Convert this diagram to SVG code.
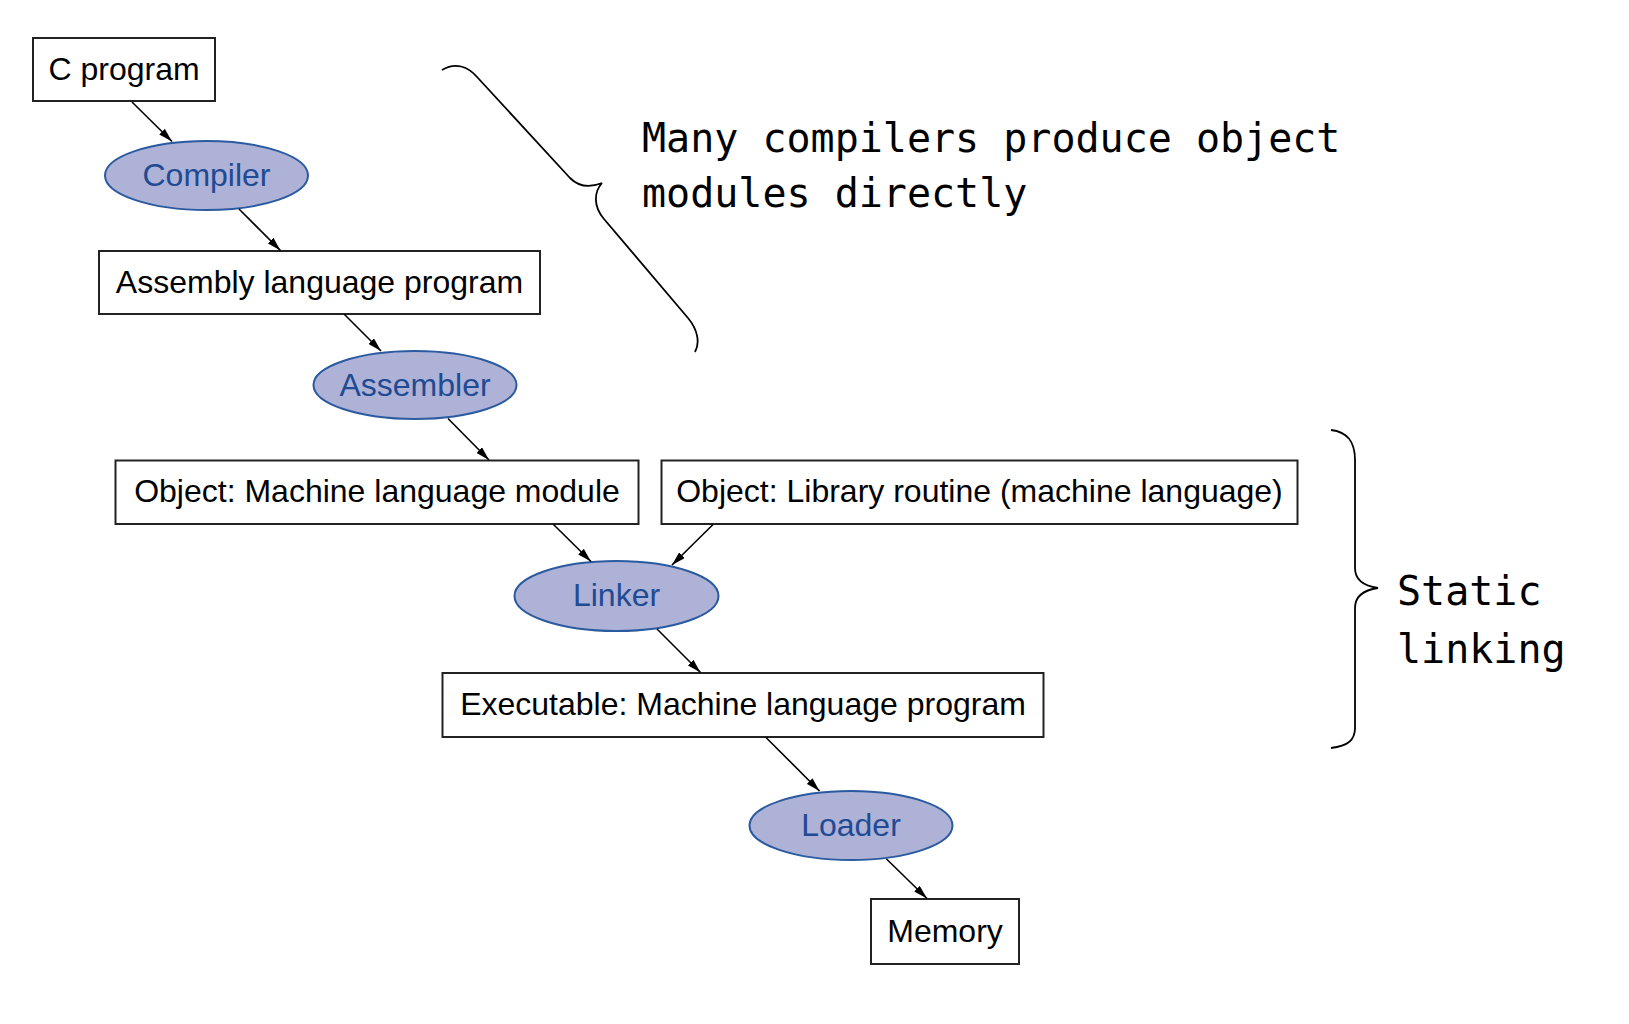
<svg xmlns="http://www.w3.org/2000/svg" width="1629" height="1024" viewBox="0 0 1629 1024">
<defs>
<style>
.box rect{fill:#fff;stroke:#222;stroke-width:2}
.box text{font-family:"Liberation Sans",Arial,sans-serif;font-size:32px;fill:#000;text-anchor:middle}
.proc ellipse{fill:#adb2d6;stroke:#2a5aa0;stroke-width:2}
.proc text{font-family:"Liberation Sans",Arial,sans-serif;font-size:32px;fill:#1f4a94;text-anchor:middle}
.conn line{stroke:#000;stroke-width:1.6;marker-end:url(#arr)}
.brace{fill:none;stroke:#000;stroke-width:1.8}
.note{font-family:"DejaVu Sans Mono",monospace;font-size:40px;fill:#000}
</style>
<marker id="arr" viewBox="0 0 14 8" refX="14" refY="4" markerWidth="14" markerHeight="8" markerUnits="userSpaceOnUse" orient="auto">
<path d="M0,0 L14,4 L0,8 z" fill="#000"/>
</marker>
</defs>
<rect width="1629" height="1024" fill="#fff"/>

<g id="c-program" class="box"><rect x="33" y="38" width="182" height="63"/><text x="124" y="80">C program</text></g>
<g id="compiler" class="proc"><ellipse cx="206.5" cy="175.5" rx="101.5" ry="34.5"/><text x="206.5" y="186">Compiler</text></g>
<g id="assembly" class="box"><rect x="99" y="251" width="441" height="63"/><text x="319.5" y="293">Assembly language program</text></g>
<g id="assembler" class="proc"><ellipse cx="415" cy="385" rx="101.5" ry="34"/><text x="415" y="396">Assembler</text></g>
<g id="object-module" class="box"><rect x="115.5" y="460.5" width="523" height="63.5"/><text x="377" y="502">Object: Machine language module</text></g>
<g id="object-library" class="box"><rect x="661.5" y="460.5" width="636" height="63.5"/><text x="979.5" y="502">Object: Library routine (machine language)</text></g>
<g id="linker" class="proc"><ellipse cx="616.5" cy="596" rx="102" ry="35"/><text x="616.5" y="606">Linker</text></g>
<g id="executable" class="box"><rect x="442.5" y="673" width="601" height="64"/><text x="743" y="715">Executable: Machine language program</text></g>
<g id="loader" class="proc"><ellipse cx="851" cy="825.5" rx="101.5" ry="34.5"/><text x="851" y="836">Loader</text></g>
<g id="memory" class="box"><rect x="871" y="899" width="148" height="65"/><text x="945" y="942">Memory</text></g>

<g id="connectors" class="conn">
<line x1="132" y1="102" x2="172" y2="141.5"/>
<line x1="239" y1="209" x2="280.5" y2="250.5"/>
<line x1="344" y1="314" x2="381" y2="351"/>
<line x1="448" y1="418.5" x2="489" y2="460"/>
<line x1="553.5" y1="524.5" x2="591" y2="561.5"/>
<line x1="713" y1="524.5" x2="672" y2="565"/>
<line x1="657" y1="629" x2="700.5" y2="672.5"/>
<line x1="766" y1="737.5" x2="819.5" y2="791"/>
<line x1="886.5" y1="859" x2="927" y2="898.5"/>
</g>

<g id="annotations">
<path class="brace" d="M442,70 C455,62 468,66 478,78 L570,178 C580,188 592,187 602,183 C594,192 593,206 604,219 L688,318 C698,330 700,343 695,352"/>
<text class="note" x="642" y="152">Many compilers produce object</text>
<text class="note" x="642" y="207">modules directly</text>
<path class="brace" d="M1331,430 C1348,432 1355,442 1355,460 L1355,568 C1355,580 1364,586 1378,588 C1364,590 1355,596 1355,608 L1355,728 C1355,740 1348,746 1331,748"/>
<text class="note" x="1397" y="605">Static</text>
<text class="note" x="1397" y="663">linking</text>
</g>
</svg>
